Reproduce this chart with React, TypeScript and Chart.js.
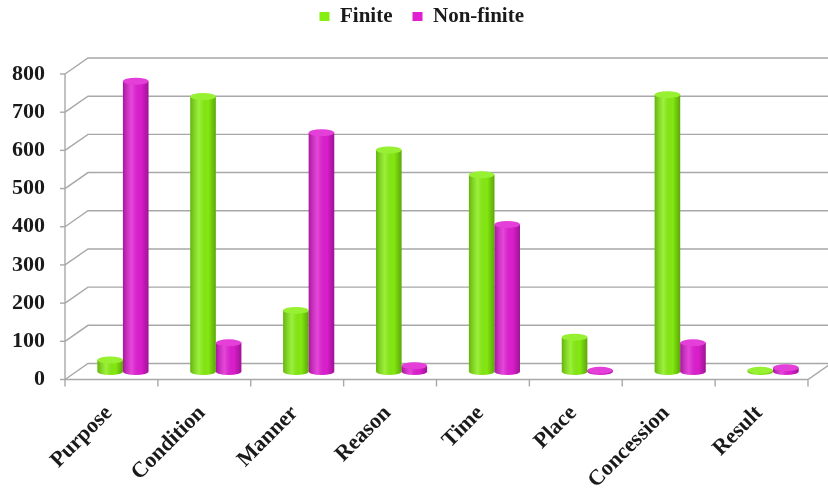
import React, { useEffect, useRef } from 'react';
import { Chart, registerables } from 'chart.js';

Chart.register(...registerables);

const categories = ['Purpose', 'Condition', 'Manner', 'Reason', 'Time', 'Place', 'Concession', 'Result'];
const finiteValues = [30, 720, 160, 580, 515, 90, 725, 3];
const nonFiniteValues = [760, 75, 625, 15, 385, 3, 75, 10];
const yTickValues = [0, 100, 200, 300, 400, 500, 600, 700, 800];

const GREEN = '#86EE10';
const PINK = '#E01ED2';
const FONT = "'Liberation Serif', 'Times New Roman', serif";
const DX = 11.5;
const DY = 8;

const wallPlugin = {
  id: 'wall3d',
  afterInit(chart: any) {
    const lg = chart.legend;
    if (lg && !lg._patched) {
      const orig = lg.fit.bind(lg);
      lg.fit = function () {
        orig();
        this.height += 29;
      };
      lg._patched = true;
    }
  },
  afterLayout(chart: any) {
    const lg = chart.legend;
    if (lg) {
      lg.left += 12;
      lg.right += 12;
    }
  },
  beforeDatasetsDraw(chart: any) {
    const { ctx, chartArea } = chart;
    const { left, right } = chartArea;
    const ys = chart.scales.y;
    const xs = chart.scales.x;
    ctx.save();
    ctx.strokeStyle = '#a8a8a8';
    ctx.lineWidth = 1.4;
    yTickValues.forEach((v) => {
      const py = ys.getPixelForValue(v);
      ctx.beginPath();
      ctx.moveTo(left - DX, py + DY);
      ctx.lineTo(left + DX, py - DY);
      ctx.lineTo(right + DX, py - DY);
      ctx.stroke();
    });
    const p0 = ys.getPixelForValue(0);
    const pTop = ys.getPixelForValue(yTickValues[yTickValues.length - 1]);
    ctx.beginPath();
    ctx.moveTo(left - DX, p0 + DY);
    ctx.lineTo(left - DX, pTop + DY);
    ctx.stroke();
    ctx.beginPath();
    ctx.moveTo(left - DX, p0 + DY);
    ctx.lineTo(right - DX, p0 + DY);
    ctx.lineTo(right + DX, p0 - DY);
    ctx.stroke();
    for (let i = 0; i <= categories.length; i++) {
      const bx = xs.getPixelForValue(i - 0.5) - DX;
      ctx.beginPath();
      ctx.moveTo(bx, p0 + DY);
      ctx.lineTo(bx, p0 + DY + 7);
      ctx.stroke();
    }
    yTickValues.forEach((v) => {
      const py = ys.getPixelForValue(v) + DY;
      ctx.beginPath();
      ctx.moveTo(left - DX - 5, py);
      ctx.lineTo(left - DX, py);
      ctx.stroke();
    });
    ctx.restore();
  },
  afterDatasetsDraw(chart: any) {
    const { ctx } = chart;
    ctx.save();
    chart.data.datasets.forEach((ds: any, di: number) => {
      const meta = chart.getDatasetMeta(di);
      const base = ds.backgroundColor;
      meta.data.forEach((el: any) => {
        const w = el.width;
        const l = el.x - w / 2;
        const r = el.x + w / 2;
        const top = Math.min(el.y, el.base);
        const bot = Math.max(el.y, el.base);
        const g = ctx.createLinearGradient(l, 0, r, 0);
        g.addColorStop(0, 'rgba(0,0,0,0.25)');
        g.addColorStop(0.35, 'rgba(255,255,255,0.18)');
        g.addColorStop(0.7, 'rgba(0,0,0,0.02)');
        g.addColorStop(1, 'rgba(0,0,0,0.3)');
        ctx.fillStyle = base;
        ctx.beginPath();
        ctx.ellipse(el.x, bot, w / 2, 3.5, 0, 0, Math.PI * 2);
        ctx.fill();
        ctx.fillStyle = g;
        ctx.beginPath();
        ctx.ellipse(el.x, bot, w / 2, 3.5, 0, 0, Math.PI);
        ctx.fill();
        if (bot - top > 0) {
          ctx.fillRect(l, top, w, bot - top);
        }
        ctx.fillStyle = base;
        ctx.beginPath();
        ctx.ellipse(el.x, top, w / 2, 3.5, 0, 0, Math.PI * 2);
        ctx.fill();
        ctx.fillStyle = 'rgba(255,255,255,0.15)';
        ctx.fill();
      });
    });
    ctx.restore();
  },
};

export default function App() {
  const ref = useRef<HTMLCanvasElement>(null);
  useEffect(() => {
    if (!ref.current) return;
    const chart = new Chart(ref.current, {
      type: 'bar',
      data: {
        labels: categories,
        datasets: [
          { label: 'Finite', data: finiteValues, backgroundColor: GREEN, borderWidth: 0 },
          { label: 'Non-finite', data: nonFiniteValues, backgroundColor: PINK, borderWidth: 0 },
        ],
      },
      options: {
        responsive: false,
        animation: false,
        layout: { padding: { left: 0, right: 8.5, top: -14, bottom: 0 } },
        datasets: {
          bar: { categoryPercentage: 0.55, barPercentage: 1 },
        },
        plugins: {
          legend: {
            position: 'top',
            labels: {
              boxWidth: 10,
              boxHeight: 9,
              padding: 20,
              color: '#1a1a1a',
              font: { family: FONT, size: 21, weight: 'bold' },
            },
          },
          tooltip: { enabled: false },
        },
        scales: {
          x: {
            grid: { display: false, drawTicks: false },
            border: { display: false },
            ticks: {
              autoSkip: false,
              maxRotation: 45,
              minRotation: 45,
              padding: 29,
              labelOffset: -14,
              color: '#1a1a1a',
              font: { family: FONT, size: 22, weight: 'bold' },
            },
            afterFit: (s: any) => {
              s.height = 120.5;
            },
          },
          y: {
            min: 0,
            max: 800,
            grid: { display: false, drawTicks: false },
            border: { display: false },
            ticks: {
              stepSize: 100,
              padding: 31.5,
              labelOffset: 8,
              color: '#1a1a1a',
              font: { family: FONT, size: 22, weight: 'bold' },
            },
            afterFit: (s: any) => {
              s.width = 76.5;
            },
          },
        },
      },
      plugins: [wallPlugin],
    } as any);
    return () => chart.destroy();
  }, []);
  return (
    <div style={{ position: 'absolute', left: 0, top: 0, width: 828, height: 492, background: '#fff' }}>
      <canvas ref={ref} width={828} height={492} />
    </div>
  );
}
